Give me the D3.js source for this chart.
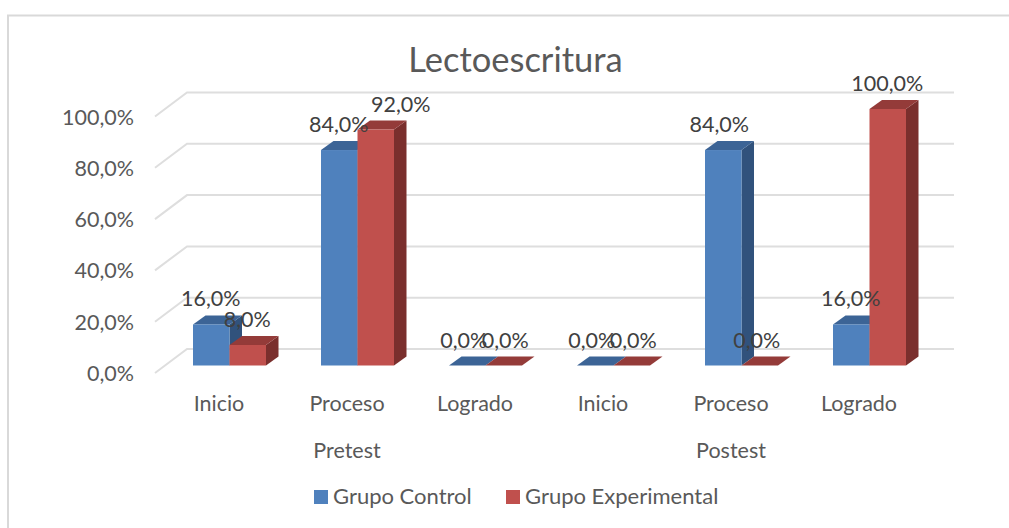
<!DOCTYPE html>
<html><head><meta charset="utf-8">
<script src="https://cdn.jsdelivr.net/npm/d3@7"></script>
<style>html,body{margin:0;padding:0;background:#fff}svg{display:block}text{font-family:Lato,"Open Sans",sans-serif}</style>
</head><body><svg id="c" width="1009" height="528"></svg>
<script>
const groups = ["Pretest","Postest"];
const categories = ["Inicio","Proceso","Logrado","Inicio","Proceso","Logrado"];
const seriesNames = ["Grupo Control","Grupo Experimental"];
const control = [16,84,0,0,84,16];
const experimental = [8,92,0,0,0,100];
const ticks = [0,20,40,60,80,100];
const colors = ["#4f81bd","#c0504d"], tops = ["#3c6496","#943b39"], sides = ["#31527c","#7a2f2d"];

const svg = d3.select("#c");
const pct = v => v.toFixed(1).replace(".",",") + "%";
const idx = categories.map((_, i) => i);
const x = d3.scaleBand().domain(idx).range([165, 933]);
const y = d3.scaleLinear().domain([0,100]).range([365.5,109]);
const barW = 36.5, bdx = 12.5, bdy = 9, wdx = 32, wdy = 24;
const txt = "#595959", lab = "#404040";

svg.append("rect").attr("x",8).attr("y",15.5).attr("width",1010).attr("height",520)
  .attr("fill","#fff").attr("stroke","#d9d9d9").attr("stroke-width",2);

svg.append("text").attr("x",515.5).attr("y",71.5).attr("text-anchor","middle")
  .attr("font-size",34.5).attr("fill",txt).text("Lectoescritura");

const g = svg.append("g").attr("stroke","#dedede").attr("stroke-width",2).attr("fill","none");
ticks.forEach(t => {
  const py = y(t) + 7.5;
  g.append("path").attr("d", d3.line()([[155,py],[155+wdx,py-wdy],[954,py-wdy]]));
});
svg.append("g").selectAll("text").data(ticks).join("text")
  .attr("x",134).attr("y",t => y(t)+15.5).attr("text-anchor","end")
  .attr("font-size",21.5).attr("fill",txt).text(t => pct(t));

const poly = d3.line();
const series = [control, experimental];
const order = [];
idx.forEach(i => { order.push([0,i]); order.push([1,i]); });
const bars = svg.append("g");
const barLeft = (s,i) => x(i) + x.bandwidth()/2 + (s-1)*barW + 0.5;
order.forEach(([s,i]) => {
  const v = series[s][i];
  const x0 = barLeft(s,i), x1 = x0 + barW, y0 = y(0), yt = y(v);
  const b = bars.append("g");
  b.append("path").attr("fill",sides[s]).attr("d",poly([[x1,y0],[x1+bdx,y0-bdy],[x1+bdx,yt-bdy],[x1,yt]])+"Z");
  b.append("path").attr("fill",tops[s]).attr("d",poly([[x0,yt],[x0+bdx,yt-bdy],[x1+bdx,yt-bdy],[x1,yt]])+"Z");
  if (v>0) b.append("rect").attr("x",x0).attr("y",yt).attr("width",barW).attr("height",y0-yt).attr("fill",colors[s]);
});
// data labels: label offsets as placed in the original chart
const nudge = new Map([["1-1",25],["0-4",-4],["1-4",-3]]);
const labels = svg.append("g");
order.forEach(([s,i]) => {
  const v = series[s][i];
  const base = v === 0 ? (s === 0 ? -3.5 : 1.5) : -0.5;
  const key = s + "-" + i;
  const cx = barLeft(s,i) + barW/2 + (nudge.has(key) ? nudge.get(key) : base);
  labels.append("text").attr("x",cx).attr("y",y(v)-18)
    .attr("text-anchor","middle").attr("font-size",21.5).attr("fill",lab).text(pct(v));
});
svg.append("g").selectAll("text").data(idx).join("text")
  .attr("x",i => x(i)+x.bandwidth()/2-10).attr("y",411).attr("text-anchor","middle")
  .attr("font-size",21.5).attr("fill",txt).text(i => categories[i]);
svg.append("g").selectAll("text").data(groups).join("text")
  .attr("x",(d,i)=> (x(i*3+1)+x.bandwidth()/2-10)).attr("y",458).attr("text-anchor","middle")
  .attr("font-size",21.5).attr("fill",txt).text(d=>d);
const lx = [314,506], tx = [333,525];
seriesNames.forEach((n,i)=>{
  svg.append("rect").attr("x",lx[i]).attr("y",490).attr("width",14).attr("height",14).attr("fill",colors[i]);
  svg.append("text").attr("x",tx[i]).attr("y",504).attr("font-size",22).attr("fill",txt).text(n);
});
</script></body></html>
